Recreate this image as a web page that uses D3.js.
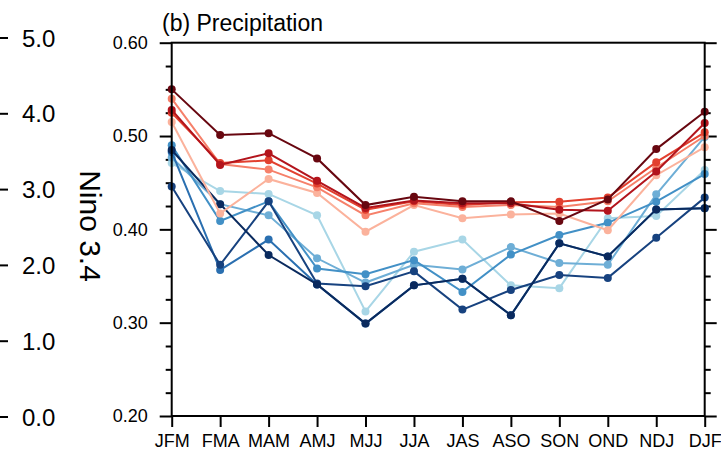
<!DOCTYPE html>
<html>
<head>
<meta charset="utf-8">
<script src="https://cdn.jsdelivr.net/npm/d3@7"></script>
<style>
  html, body { margin: 0; padding: 0; background: #fff; }
  svg { display: block; font-family: "Liberation Sans", Arial, Helvetica, sans-serif; }
</style>
</head>
<body>
<svg id="chart" width="721" height="452"></svg>
<script>
// ---- data ----
const months = ["JFM","FMA","MAM","AMJ","MJJ","JJA","JAS","ASO","SON","OND","NDJ","DJF"];
const yTicks = [0.20, 0.30, 0.40, 0.50, 0.60];
const leftTicks = [0.0, 1.0, 2.0, 3.0, 4.0, 5.0];

const red1 = [0.550,0.501,0.503,0.476,0.426,0.435,0.430,0.430,0.409,0.432,0.486,0.526];
const red2 = [0.528,0.469,0.4815,0.452,0.423,0.431,0.428,0.428,0.421,0.420,0.462,0.514];
const red3 = [0.525,0.471,0.474,0.449,0.421,0.430,0.426,0.429,0.4295,0.434,0.472,0.504];
const red4 = [0.540,0.470,0.464,0.445,0.415,0.428,0.424,0.426,0.424,0.430,0.466,0.500];
const red5 = [0.515,0.417,0.454,0.439,0.3975,0.426,0.412,0.416,0.417,0.399,0.458,0.488];

const blue1 = [0.471,0.441,0.438,0.415,0.312,0.376,0.389,0.340,0.337,0.412,0.4143,0.4636];
const blue2 = [0.477,0.427,0.415,0.369,0.343,0.362,0.357,0.381,0.364,0.362,0.4375,0.499];
const blue3 = [0.490,0.409,0.430,0.358,0.352,0.367,0.333,0.373,0.394,0.407,0.4296,0.4593];
const blue4 = [0.446,0.362,0.430,0.342,0.339,0.355,0.314,0.335,0.351,0.348,0.391,0.434];
const blue5 = [0.483,0.3565,0.389,0.341,0.299,0.340,0.347,0.308,0.385,0.371,0.4214,0.4225];
const blue6 = [0.485,0.427,0.3725,0.341,0.299,0.340,0.347,0.308,0.385,0.371,0.4214,0.4225];

const seriesValues = [blue1, blue2, blue3, blue5, blue4, blue6, red5, red4, red3, red2, red1];
const seriesColors = ["#a8d6e6","#6eaed6","#4290c6","#2a6fb0","#17427f","#0a2a5e",
                      "#fbb29c","#f6806a","#e2402f","#b3141c","#680710"];

// ---- layout ----
const svg = d3.select("#chart");
const x = d3.scalePoint().domain(months).range([171.7, 704.7]);
const y = d3.scaleLinear().domain([0.20, 0.60]).range([416, 42.7]);
const yLeft = d3.scaleLinear().domain([0, 5]).range([417, 38]);

// left partial panel axis
const gl = svg.append("g");
gl.selectAll("line.lt").data(leftTicks).join("line")
  .attr("x1", 0).attr("x2", 8)
  .attr("y1", d => yLeft(d)).attr("y2", d => yLeft(d))
  .attr("stroke", "#000").attr("stroke-width", 2);
gl.selectAll("text.lt").data(leftTicks).join("text")
  .attr("x", 22).attr("y", d => yLeft(d))
  .attr("dy", "0.36em")
  .attr("font-size", 24)
  .text(d => d.toFixed(1));
svg.append("text")
  .attr("transform", "translate(80,226) rotate(90)")
  .attr("text-anchor", "middle")
  .attr("font-size", 30)
  .text("Nino 3.4");

// ticks (outward)
const minor = d3.range(0.20, 0.6001, 0.025).filter(v => Math.abs(Math.round(v*10) - v*10) > 1e-6);
const axL = d3.axisLeft(y).tickValues(yTicks).tickFormat(d3.format(".2f")).tickSize(12).tickPadding(12);
const axR = d3.axisRight(y).tickValues(yTicks).tickFormat("").tickSize(12);
const axLm = d3.axisLeft(y).tickValues(minor).tickFormat("").tickSize(6);
const axRm = d3.axisRight(y).tickValues(minor).tickFormat("").tickSize(6);
const axB = d3.axisBottom(x).tickSize(11).tickPadding(7);

function style(g, fs) {
  g.select(".domain").remove();
  g.selectAll(".tick line").attr("stroke", "#000").attr("stroke-width", 2);
  g.selectAll(".tick text").attr("fill", "#000").attr("font-size", fs)
    .attr("font-family", "'Liberation Sans', Arial, sans-serif");
}
svg.append("g").attr("transform", "translate(171.7,0)").call(axL).call(g => style(g, 18));
svg.append("g").attr("transform", "translate(171.7,0)").call(axLm).call(g => style(g, 18));
svg.append("g").attr("transform", "translate(704.7,0)").call(axR).call(g => style(g, 18));
svg.append("g").attr("transform", "translate(704.7,0)").call(axRm).call(g => style(g, 18));
svg.append("g").attr("transform", "translate(0,416)").call(axB).call(g => style(g, 18));

// series
const line = d3.line().x((d, i) => x(months[i])).y(d => y(d));
const gs = svg.append("g");
seriesValues.forEach((vals, k) => {
  gs.append("path").datum(vals)
    .attr("d", line).attr("fill", "none")
    .attr("stroke", seriesColors[k]).attr("stroke-width", 2);
  gs.selectAll(null).data(vals).join("circle")
    .attr("cx", (d, i) => x(months[i])).attr("cy", d => y(d))
    .attr("r", 4).attr("fill", seriesColors[k]);
});

// frame
svg.append("rect")
  .attr("x", 171.7).attr("y", 42.7)
  .attr("width", 704.7 - 171.7).attr("height", 416 - 42.7)
  .attr("fill", "none").attr("stroke", "#000").attr("stroke-width", 2);

// title
svg.append("text").attr("x", 162).attr("y", 31).attr("font-size", 23)
  .text("(b) Precipitation");
</script>
</body>
</html>
